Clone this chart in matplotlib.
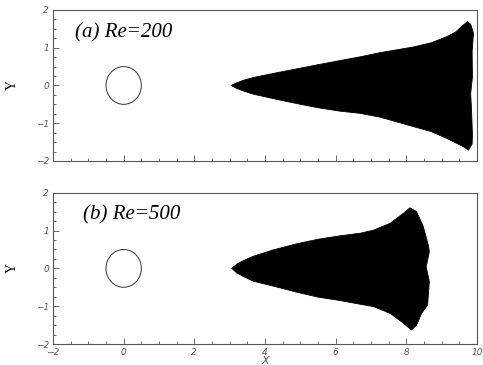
import numpy as np
import matplotlib; matplotlib.use("Agg")
import matplotlib.pyplot as plt
from matplotlib.patches import Circle
from matplotlib.ticker import MultipleLocator

# particle-cloud outline, Re=200 (clockwise: upper edge, right edge, lower edge)
re200_x = [3.04, 3.2, 3.4, 3.67, 4.24, 4.9, 5.5, 6.12, 6.7, 7.26, 8.2, 8.7, 9.14, 9.4, 9.61, 9.73, 9.82,
           9.90, 9.86, 9.87, 9.82, 9.85, 9.87, 9.86, 9.76,
           9.61, 9.14, 8.7, 8.2, 7.26, 6.7, 6.12, 5.5, 4.9, 4.24, 3.67, 3.4, 3.2, 3.04]
re200_y = [0.0, 0.07, 0.14, 0.21, 0.32, 0.44, 0.55, 0.66, 0.76, 0.87, 1.02, 1.13, 1.29, 1.42, 1.60, 1.69, 1.62,
           1.38, 0.90, 0.23, -0.21, -0.80, -1.30, -1.55, -1.71,
           -1.62, -1.40, -1.22, -1.09, -0.84, -0.74, -0.68, -0.59, -0.48, -0.35, -0.23, -0.15, -0.08, 0.0]

# particle-cloud outline, Re=500
re500_x = [3.06, 3.2, 3.4, 3.67, 4.24, 4.9, 5.5, 6.12, 6.7, 7.07, 7.54, 7.92, 8.10, 8.29, 8.48, 8.62, 8.65,
           8.56, 8.65, 8.60, 8.43, 8.29, 8.14,
           7.92, 7.54, 7.07, 6.7, 6.12, 5.5, 4.9, 4.24, 3.67, 3.4, 3.2, 3.06]
re500_y = [0.0, 0.11, 0.21, 0.32, 0.49, 0.65, 0.77, 0.86, 0.93, 1.01, 1.19, 1.46, 1.60, 1.50, 1.10, 0.62, 0.44,
           0.04, -0.35, -0.97, -1.19, -1.50, -1.63,
           -1.45, -1.19, -1.01, -0.95, -0.85, -0.76, -0.63, -0.47, -0.34, -0.22, -0.12, 0.0]

panels = [("(a) Re=200", re200_x, re200_y, (-1.38, 1.39)),
          ("(b) Re=500", re500_x, re500_y, (-1.15, 1.41))]
cyl_center, cyl_r = (0.0, 0.0), 0.5

GRAY = "#555555"
fig = plt.figure(figsize=(4.83, 3.65), dpi=100)
boxes = [[0.1097, 0.559, 0.878, 0.4137], [0.1097, 0.0575, 0.878, 0.4145]]

for i, ((label, px, py, lpos), box) in enumerate(zip(panels, boxes)):
    ax = fig.add_axes(box)
    ax.fill(px, py, color="black", lw=0.6, ec="black", joinstyle="round")
    ax.add_patch(Circle(cyl_center, cyl_r, fill=False, ec="#333333", lw=0.7))
    ax.set_xlim(-2, 10); ax.set_ylim(-2, 2)
    ax.text(lpos[0], lpos[1], label, fontsize=15, style="italic", family="Liberation Serif",
            va="center", ha="left")
    ax.xaxis.set_major_locator(MultipleLocator(2)); ax.xaxis.set_minor_locator(MultipleLocator(0.5))
    ax.yaxis.set_major_locator(MultipleLocator(1)); ax.yaxis.set_minor_locator(MultipleLocator(0.25))
    ax.tick_params(which="both", direction="in", top=False, right=False, color=GRAY, width=0.6)
    ax.tick_params(which="major", length=4, pad=3)
    ax.tick_params(which="minor", length=2)
    for s in ax.spines.values():
        s.set_color(GRAY); s.set_linewidth(0.8)
    for t in ax.get_xticklabels() + ax.get_yticklabels():
        t.set_fontsize(6.5); t.set_fontstyle("italic"); t.set_color(GRAY)
    ax.set_ylabel("Y", fontsize=10, family="Liberation Serif", labelpad=12)
    if i == 0:
        ax.tick_params(labelbottom=False)
    else:
        ax.set_xlabel("X", fontsize=8, style="italic", color=GRAY, labelpad=-1)

fig.savefig("out.png", dpi=100)
